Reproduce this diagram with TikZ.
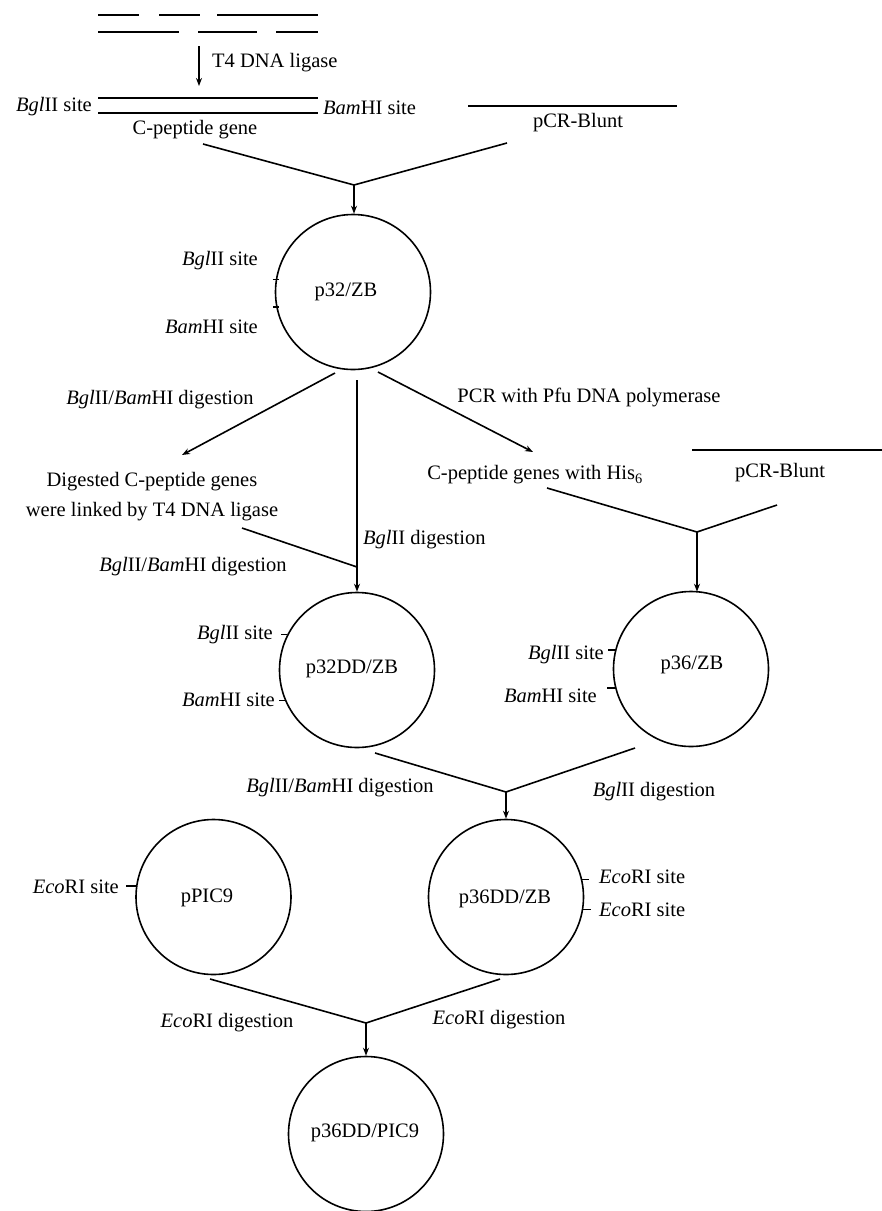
\documentclass[tikz,border=0pt]{standalone}
\usepackage{fontspec}
\setmainfont{Liberation Serif}
\usetikzlibrary{arrows.meta}
\begin{document}
\begin{tikzpicture}[x=1pt,y=-1pt,
  every node/.style={font=\fontsize{20.5}{30}\selectfont, inner sep=0pt},
  ln/.style={line width=1.6pt},
  strand/.style={line width=2.2pt},
  arr/.style={line width=1.6pt,-{Stealth[length=8pt,width=6pt]}},
  plasmid/.style={circle,draw,line width=1.6pt,minimum size=155pt},
  sitetick/.style={line width=1.4pt}]
\useasboundingbox (0,0) rectangle (882,1211);

% ---- ligation of strands
\draw[strand] (98,15) -- (139,15) (159,15) -- (200,15) (217,15) -- (318,15);
\draw[strand] (98,32) -- (179,32) (198,32) -- (257,32) (276,32) -- (318,32);
\coordinate (ligA) at (199,46);
\coordinate (ligB) at (199,86);
\draw[arr] (ligA) -- (ligB);
\node[anchor=west] (t4) at (212,63) {T4 DNA ligase};

\draw[strand] (98,98) -- (318,98);
\draw[strand] (98,113) -- (318,113);
\node[anchor=east] (bgl0) at (92,107) {\textit{Bgl}II site};
\node[anchor=west] (bam0) at (323,108) {\textit{Bam}HI site};
\node (cgene) at (195,130) {C-peptide gene};

\draw[strand] (468,106) -- (677,106);
\node (pcr1) at (578,123) {pCR-Blunt};

% ---- p32/ZB
\coordinate (s1a) at (203,144);
\coordinate (s1b) at (507,143);
\coordinate (j1) at (354,185);
\node[plasmid] (p32) at (353,292) {};
\node at (346,292) {p32/ZB};
\draw[ln] (s1a) -- (j1) -- (s1b);
\draw[arr] (j1) -- (j1 |- p32.north);
\draw[sitetick] ([xshift=-3pt]p32.171) -- ([xshift=3pt]p32.171);
\draw[sitetick] ([xshift=-3pt]p32.191) -- ([xshift=3pt]p32.191);
\node[anchor=east] (bgl1) at (258,261) {\textit{Bgl}II site};
\node[anchor=east] (bam1) at (258,327) {\textit{Bam}HI site};

% ---- three branches
\coordinate (b1s) at (335,373);
\coordinate (b1e) at (182,455);
\draw[arr] (b1s) -- (b1e);
\node (lb1) at (160,400) {\textit{Bgl}II/\textit{Bam}HI digestion};

\coordinate (b2s) at (357,380);
\node[plasmid] (p32dd) at (357,670) {};
\node at (352,669) {p32DD/ZB};
\draw[arr] (b2s) -- (b2s |- p32dd.north);
\node[anchor=west] (lb2) at (363,540) {\textit{Bgl}II digestion};

\coordinate (b3s) at (378,372);
\coordinate (b3e) at (533,452);
\draw[arr] (b3s) -- (b3e);
\node (lb3) at (589,397) {PCR with Pfu DNA polymerase};

\node[align=center] (dig) at (152,497) {Digested C-peptide genes\\were linked by T4 DNA ligase};
\coordinate (d1) at (242,528);
\coordinate (d2) at (357,567);
\draw[ln] (d1) -- (d2);
\node (lb4) at (193,567) {\textit{Bgl}II/\textit{Bam}HI digestion};

% ---- p36/ZB
\node (his) at (535,475) {C-peptide genes with His\textsubscript{6}};
\draw[strand] (692,450) -- (882,450);
\node (pcr2) at (780,473) {pCR-Blunt};
\coordinate (h1) at (547,488);
\coordinate (h2) at (777,505);
\coordinate (j2) at (697,532);
\draw[ln] (h1) -- (j2) -- (h2);
\node[plasmid] (p36) at (691,669) {};
\node at (692,665) {p36/ZB};
\draw[arr] (j2) -- ([yshift=-1pt]j2 |- p36.north);

% ticks p32DD
\draw[sitetick] (p32dd.153) -- ++(-6,0);
\draw[sitetick] (p32dd.203) -- ++(-6,0);
\node[anchor=east] (bgl2) at (273,635) {\textit{Bgl}II site};
\node[anchor=east] (bam2) at (275,700) {\textit{Bam}HI site};

% ticks p36
\draw[sitetick] (p36.166) -- ++(-7,0);
\draw[sitetick] (p36.194) -- ++(-8,0);
\node[anchor=east] (bgl3) at (604,655) {\textit{Bgl}II site};
\node[anchor=east] (bam3) at (597,696) {\textit{Bam}HI site};

% ---- p36DD/ZB
\coordinate (k1) at (375,753);
\coordinate (k2) at (635,748);
\coordinate (j3) at (506,792);
\draw[ln] (k1) -- (j3) -- (k2);
\node (lb5) at (340,788) {\textit{Bgl}II/\textit{Bam}HI digestion};
\node (lb6) at (654,792) {\textit{Bgl}II digestion};
\node[plasmid] (p36dd) at (506,897) {};
\node at (505,899) {p36DD/ZB};
\draw[arr] (j3) -- (j3 |- p36dd.north);
\draw[sitetick] (p36dd.13) -- ++(7,0);
\draw[sitetick] (p36dd.-9) -- ++(8,0);
\node[anchor=west] (eco1) at (599,877) {\textit{Eco}RI site};
\node[anchor=west] (eco2) at (599,910) {\textit{Eco}RI site};

% ---- pPIC9
\node[plasmid] (ppic) at (213.5,897) {};
\node at (207,898) {pPIC9};
\draw[sitetick] (ppic.172.5) -- ++(-10,0);
\node[anchor=east] (eco0) at (119,887) {\textit{Eco}RI site};

% ---- final
\coordinate (m1) at (210,979);
\coordinate (m2) at (500,979);
\coordinate (j4) at (366,1023);
\draw[ln] (m1) -- (j4) -- (m2);
\node (lb7) at (227,1023) {\textit{Eco}RI digestion};
\node (lb8) at (499,1020) {\textit{Eco}RI digestion};
\node[plasmid] (pfin) at (366,1134) {};
\node at (365,1133) {p36DD/PIC9};
\draw[arr] (j4) -- (j4 |- pfin.north);
\end{tikzpicture}
\end{document}
